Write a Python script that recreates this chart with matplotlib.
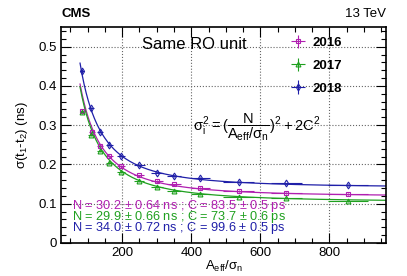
import numpy as np
import matplotlib
matplotlib.use('Agg')
import matplotlib.pyplot as plt
import matplotlib.ticker as ticker

plt.rcParams['font.family'] = ['Liberation Sans', 'DejaVu Sans']
plt.rcParams['mathtext.fontset'] = 'custom'
plt.rcParams['mathtext.rm'] = 'Liberation Sans'
plt.rcParams['mathtext.it'] = 'Liberation Sans'

years = ['2016', '2017', '2018']
colors = ['#b01fb0', '#1fa01f', '#1f1fa8']
markers = ['s', '^', 'd']

# A_eff/sigma_n bin centres and half-widths
x16 = [84, 112, 136, 163, 197, 249, 300, 350, 426, 537, 675, 853]
x17 = [84, 110, 136, 163, 197, 249, 300, 350, 426, 537, 675, 853]
x18 = [84, 110, 136, 163, 197, 250, 300, 350, 426, 537, 675, 853]
xerr = [5, 8, 8, 10, 12, 15, 18, 20, 28, 45, 45, 58]

sig16 = [0.336, 0.282, 0.248, 0.222, 0.196, 0.172, 0.158, 0.149, 0.140, 0.132, 0.128, 0.125]
sig17 = [0.333, 0.275, 0.234, 0.205, 0.181, 0.158, 0.143, 0.133, 0.124, 0.118, 0.115, 0.107]
sig18 = [0.438, 0.344, 0.283, 0.250, 0.221, 0.198, 0.179, 0.170, 0.165, 0.155, 0.152, 0.147]
yerr = [0.004, 0.003, 0.003, 0.002, 0.002, 0.002, 0.002, 0.002, 0.002, 0.002, 0.002, 0.003]

# fit results: N in ns, C in ps
N_fit = [30.2, 29.9, 34.0]
N_err = [0.64, 0.66, 0.72]
C_fit = [83.5, 73.7, 99.6]
C_err = [0.5, 0.6, 0.5]

fig = plt.figure(figsize=(4.07, 2.76), dpi=100)
ax = fig.add_axes([0.150, 0.1196, 0.7996, 0.7824])

xs = [x16, x17, x18]
ys = [sig16, sig17, sig18]
handles = []
for i in range(3):
    h = ax.errorbar(xs[i], ys[i], xerr=xerr, yerr=yerr, fmt=markers[i], color=colors[i],
                    mfc='none', ms=3.5, mew=0.8, elinewidth=0.8, capsize=0, label=years[i])
    handles.append(h)
    xf = np.linspace(78, 965, 300)
    ax.plot(xf, np.sqrt((N_fit[i] / xf) ** 2 + 2 * (C_fit[i] / 1000.) ** 2), color=colors[i], lw=0.9)

ax.set_xlim(23, 965)
ax.set_ylim(0, 0.55)
ax.xaxis.set_major_locator(ticker.MultipleLocator(200))
ax.xaxis.set_minor_locator(ticker.MultipleLocator(50))
ax.yaxis.set_major_locator(ticker.MultipleLocator(0.1))
ax.yaxis.set_minor_locator(ticker.MultipleLocator(0.02))
ax.yaxis.set_major_formatter(ticker.FuncFormatter(lambda v, p: '0' if v == 0 else '%.1f' % v))
ax.tick_params(which='both', direction='in', top=True, right=True, labelsize=9.5, pad=3)
ax.tick_params(which='major', length=7, width=0.8)
ax.tick_params(which='minor', length=3.5, width=0.8)
ax.grid(True, which='major', linestyle=':', color='#666666', lw=0.8)
for s in ax.spines.values():
    s.set_linewidth(1.2)

ax.set_xlabel(r'A$_{\mathrm{eff}}$/$\sigma_{\mathrm{n}}$', fontsize=9.5, labelpad=0)
ax.set_ylabel(r'$\sigma$(t$_1$-t$_2$) (ns)', fontsize=9.5, labelpad=6)

fig.text(0.150, 0.95, 'CMS', fontsize=9.5, fontweight='bold', ha='left', va='center')
fig.text(0.9496, 0.95, '13 TeV', fontsize=9.5, ha='right', va='center')

ax.text(0.249, 0.92, 'Same RO unit', transform=ax.transAxes, fontsize=12, ha='left', va='center')
ax.text(0.405, 0.535, r'$\sigma_{i}^{2} = (\dfrac{N}{A_{eff}/\sigma_{n}})^{2} + 2C^{2}$',
        transform=ax.transAxes, fontsize=10.5, ha='left', va='center')

for i in range(3):
    ax.text(0.033, 0.171 - 0.051 * i,
            'N = %.1f $\\pm$ %.2f ns ; C = %.1f $\\pm$ %.1f ps' % (N_fit[i], N_err[i], C_fit[i], C_err[i]),
            transform=ax.transAxes, fontsize=9.2, color=colors[i], ha='left', va='center')

leg = ax.legend(handles=handles, loc='upper left', bbox_to_anchor=(0.655, 1.01), frameon=False,
                prop={'weight': 'bold', 'size': 9.5}, handlelength=1.8, handletextpad=0.2,
                labelspacing=0.8)

fig.savefig('out.png', dpi=100)
